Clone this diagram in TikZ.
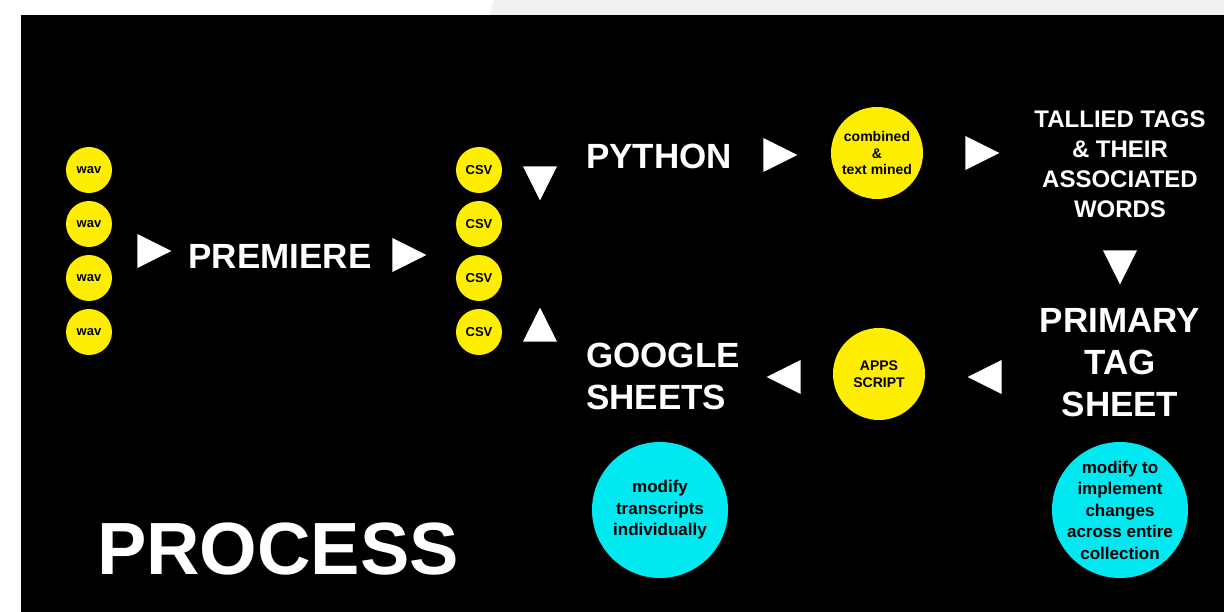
\documentclass[tikz,border=0pt]{standalone}
\usepackage{fontspec}
\setmainfont{Liberation Sans}
\usetikzlibrary{shapes.geometric}
\definecolor{dotyellow}{RGB}{255,238,0}
\definecolor{dotcyan}{RGB}{0,232,240}
\definecolor{topgray}{RGB}{241,241,241}

\begin{document}
\begin{tikzpicture}
[x=1pt,y=-1pt
,dot/.style={circle,fill=dotyellow,text=black,inner sep=0pt,align=center}
,file/.style={dot,minimum size=46pt,font=\bfseries\fontsize{13}{15}\selectfont}
,tool/.style={dot,minimum size=92pt,font=\bfseries\fontsize{14}{16.5}\selectfont}
,note/.style={circle,fill=dotcyan,text=black,inner sep=-8pt,minimum size=136pt,align=center,font=\bfseries\fontsize{17}{21.5}\selectfont}
,big/.style={text=white,inner sep=0pt,font=\bfseries\fontsize{35}{42}\selectfont}
,mid/.style={text=white,inner sep=0pt,align=center,font=\bfseries\fontsize{24}{30}\selectfont}
,tri/.style={isosceles triangle,isosceles triangle stretches,fill=white,draw=none,inner sep=0pt,minimum width=34pt,minimum height=34pt,anchor=apex,shape border rotate=#1}
]
% page and slide
\fill[white] (0,0) rectangle (1224,612);
\fill[topgray] (494,0) -- (1224,0) -- (1224,15) -- (490,15) -- cycle;
\fill[black] (21,15) rectangle (1224,612);

\node[file] (wav1) at (89,170) {wav};
\node[file] (wav2) at (89,224) {wav};
\node[file] (wav3) at (89,278) {wav};
\node[file] (wav4) at (89,332) {wav};
\node[tri=0] (a1) at (172,251) {};
\node[big] (premiere) at (280,256) {PREMIERE};
\node[tri=0] (a2) at (427,255) {};
\node[file] (csv1) at (479,170) {CSV};
\node[file] (csv2) at (479,224) {CSV};
\node[file] (csv3) at (479,278) {CSV};
\node[file] (csv4) at (479,332) {CSV};

% upper row
\node[tri=270] (a3) at (540,201) {};
\node[big,anchor=west] (python) at (586,156) {PYTHON};
\node[tri=0] (a4) at (798,155) {};
\node[tool] (mined) at (877,153) {combined\\\&\\text mined};
\node[tri=0] (a5) at (1000,153) {};
\node[mid] (tallied) at (1120,164) {TALLIED TAGS\\\& THEIR\\ASSOCIATED\\WORDS};
\node[tri=270] (a6) at (1120,285) {};

% lower row
\node[big,align=center] (primary) at (1120,363) {PRIMARY\\TAG\\SHEET};
\node[tri=180] (a7) at (967,377) {};
\node[tool] (apps) at (879,374) {APPS\\SCRIPT};
\node[tri=180] (a8) at (766,377) {};
\node[big,align=left,anchor=west] (sheets) at (586,376) {GOOGLE\\SHEETS};
\node[tri=90] (a9) at (540,307) {};

\node[note] (each) at (660,510) {modify\\transcripts\\individually};
\node[note] (whole) at (1120,510) {modify to\\implement\\changes\\across entire\\collection};

\node[text=white,inner sep=0pt,font=\bfseries\fontsize{74}{80}\selectfont] (title) at (278,549) {PROCESS};
\end{tikzpicture}
\end{document}
